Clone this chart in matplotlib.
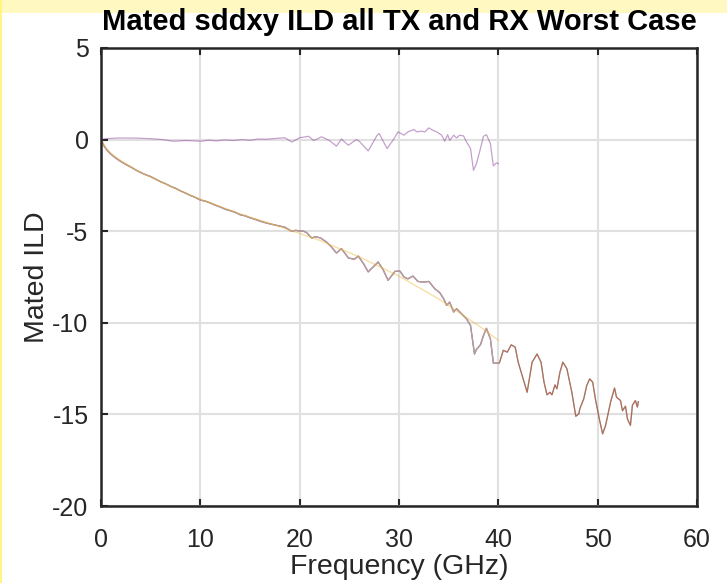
#! /usr/bin/env python
# -*- coding: utf-8 -*-

import numpy as np
from matplotlib import pyplot as plt
from matplotlib.patches import Rectangle

# Mated ILD, measured trace (GHz, dB)
freqMeas = [0, 0.3, 0.6, 1, 1.5, 2, 2.5, 3, 3.5, 4, 4.5, 5, 5.5, 6, 6.5, 7,
            7.5, 8, 8.5, 9, 9.5, 10, 10.5, 11, 11.5, 12, 12.5, 13, 13.5, 14,
            14.5, 15, 15.5, 16, 16.5, 17, 17.5, 18, 18.5, 19.2, 19.6, 20.0,
            20.4, 20.7, 21.2, 21.6, 22.1, 22.7, 23.2, 23.7, 24.2, 24.9, 25.5,
            25.9, 26.4, 26.9, 27.4, 27.9, 28.4, 28.9, 29.6, 30.1, 30.5, 30.9,
            31.4, 31.9, 32.5, 33.0, 33.6, 34.1, 34.5, 34.8, 35.1, 35.5, 35.8,
            36.3, 36.8, 37.2, 37.6, 37.8, 38.2, 38.5, 38.8, 39.2, 39.5, 40.1,
            40.5, 40.9, 41.3, 41.7, 42.0, 42.5, 42.9, 43.4, 43.9, 44.3, 44.6,
            44.9, 45.2, 45.4, 45.7, 45.9, 46.2, 46.5, 46.9, 47.4, 47.8, 48.1,
            48.2, 48.6, 48.9, 49.2, 49.5, 49.8, 50.2, 50.5, 50.8, 51.3, 51.7,
            51.9, 52.3, 52.5, 52.8, 53.0, 53.3, 53.5, 53.8, 54.0, 54.1]
ildMeas = [0, -0.35, -0.58, -0.8, -1.02, -1.2, -1.36, -1.5, -1.66, -1.8,
           -1.92, -2.02, -2.16, -2.3, -2.41, -2.55, -2.66, -2.8, -2.92, -3.05,
           -3.16, -3.3, -3.36, -3.46, -3.58, -3.68, -3.8, -3.88, -3.97, -4.1,
           -4.16, -4.27, -4.35, -4.45, -4.53, -4.6, -4.66, -4.72, -4.78, -5.01,
           -4.95, -4.99, -5.0, -5.08, -5.37, -5.3, -5.37, -5.59, -5.86, -6.19,
           -5.95, -6.46, -6.53, -6.36, -6.75, -7.22, -6.95, -6.68, -7.1, -7.68,
           -7.19, -7.18, -7.5, -7.6, -7.45, -7.74, -7.78, -7.74, -8.14, -8.35,
           -8.69, -9.05, -8.87, -9.41, -9.23, -9.51, -9.78, -10.15, -11.7,
           -11.45, -11.2, -10.7, -10.3, -10.87, -12.2, -12.2, -11.5, -11.6,
           -11.2, -11.33, -12.15, -13.06, -13.79, -12.15, -11.7, -12.15, -13.24,
           -13.93, -13.79, -13.93, -13.39, -13.6, -12.7, -12.15, -12.5, -13.79,
           -15.1, -14.97, -14.7, -14.15, -13.42, -13.06, -13.24, -14.24, -15.33,
           -16.06, -15.6, -14.33, -13.56, -14.06, -14.24, -14.8, -14.55, -15.25,
           -15.6, -14.5, -14.24, -14.6, -14.3]

# Fitted ILD (0 - 40 GHz)
freqFit = [0, 0.5, 1, 2, 4, 6, 8, 10, 14, 18, 22, 26, 30, 34, 38, 40]
ildFit = [0, -0.45, -0.75, -1.15, -1.8, -2.3, -2.8, -3.25, -4.05, -4.75,
          -5.5, -6.4, -7.45, -8.7, -10.15, -10.95]

# ILD deviation (0 - 40 GHz)
freqDev = [0, 0.5, 1.9, 3.5, 5.0, 6.2, 7.3, 8.5, 10.1, 10.8, 11.6, 12.4, 13.3,
           14.2, 15.0, 15.8, 16.7, 17.5, 18.5, 19.2, 20.0, 20.9, 21.4, 22.2,
           23.0, 23.7, 24.2, 24.9, 25.7, 26.0, 26.9, 27.8, 28.0, 28.8, 29.5,
           29.9, 30.2, 30.5, 30.9, 31.5, 31.8, 32.2, 32.6, 33.0, 33.4, 33.8,
           34.3, 34.6, 34.9, 35.1, 35.5, 35.8, 36.1, 36.5, 36.8, 37.2, 37.5,
           37.8, 38.2, 38.5, 38.8, 39.2, 39.5, 39.8, 40.0]
ildDev = [0, 0.05, 0.09, 0.08, 0.05, 0.0, -0.09, -0.05, -0.09, -0.03, -0.07,
          -0.02, -0.05, 0.0, -0.04, 0.03, 0.02, 0.06, 0.1, -0.13, 0.1, 0.18,
          -0.05, 0.15, -0.05, -0.36, 0.03, -0.31, 0.0, -0.09, -0.62, 0.24, 0.33,
          -0.49, 0.05, 0.42, 0.33, 0.24, 0.42, 0.55, 0.42, 0.46, 0.42, 0.64,
          0.51, 0.42, 0.24, -0.09, 0.27, -0.05, 0.24, 0.09, 0.24, 0.2, -0.13,
          -0.49, -1.68, -1.31, -0.49, 0.18, 0.27, -0.22, -1.44, -1.27, -1.31]

xTicks = [0, 10, 20, 30, 40, 50, 60]
yTicks = [-20, -15, -10, -5, 0, 5]

plt.rcParams['font.family'] = ['Liberation Sans', 'DejaVu Sans']
plt.rcParams['axes.unicode_minus'] = False

fig = plt.figure(figsize=(7.27, 5.83), dpi=100)
ax = fig.add_axes([0.139, 0.132, 0.8197, 0.7857])

# Traces (MATLAB-like colours, semi-transparent)
ax.plot(freqMeas, ildMeas, color='#0072BD', linewidth=0.9, alpha=0.6)
ax.plot(freqMeas, ildMeas, color='#D95319', linewidth=0.9, alpha=0.7)
cut = freqMeas.index(40.1)
ax.plot(freqMeas[:cut + 1], ildMeas[:cut + 1], color='#B8A8B8', linewidth=0.9, alpha=0.8)
ax.plot(freqFit, ildFit, color='#EDB120', linewidth=1.0, alpha=0.4)
ax.plot(freqDev, ildDev, color='#7E2F8E', linewidth=0.9, alpha=0.45)

ax.set_xlim(0, 60)
ax.set_ylim(-20, 5)
ax.set_xticks(xTicks)
ax.set_yticks(yTicks)
ax.tick_params(direction='in', top=True, right=False, length=5, width=1.5,
               labelsize=18, colors='#262626')
ax.tick_params(axis='x', pad=16)
ax.tick_params(axis='y', pad=9)
ax.grid(True, color='#E0E0E0', linewidth=1.5)
ax.set_axisbelow(True)
for side in ['left', 'bottom', 'top', 'right']:
    ax.spines[side].set_color('#262626')
    ax.spines[side].set_linewidth(1.8)

ax.set_xlabel('Frequency (GHz)', fontsize=20.5, color='#262626', labelpad=1)
ax.set_ylabel('Mated ILD', fontsize=20.5, color='#262626', labelpad=2)
ax.set_title('Mated sddxy ILD all TX and RX Worst Case', fontsize=21,
             fontweight='bold', pad=13)

# Yellowish frame strips at top and left edge
fig.patches.append(Rectangle((0, 1 - 13 / 583.0), 1, 13 / 583.0, transform=fig.transFigure,
                             facecolor='#FFF8C0', edgecolor='none', zorder=-1))
fig.patches.append(Rectangle((0, 0), 2 / 727.0, 1, transform=fig.transFigure,
                             facecolor='#FFF580', edgecolor='none', zorder=-1))

plt.savefig('out.png', dpi=100)
